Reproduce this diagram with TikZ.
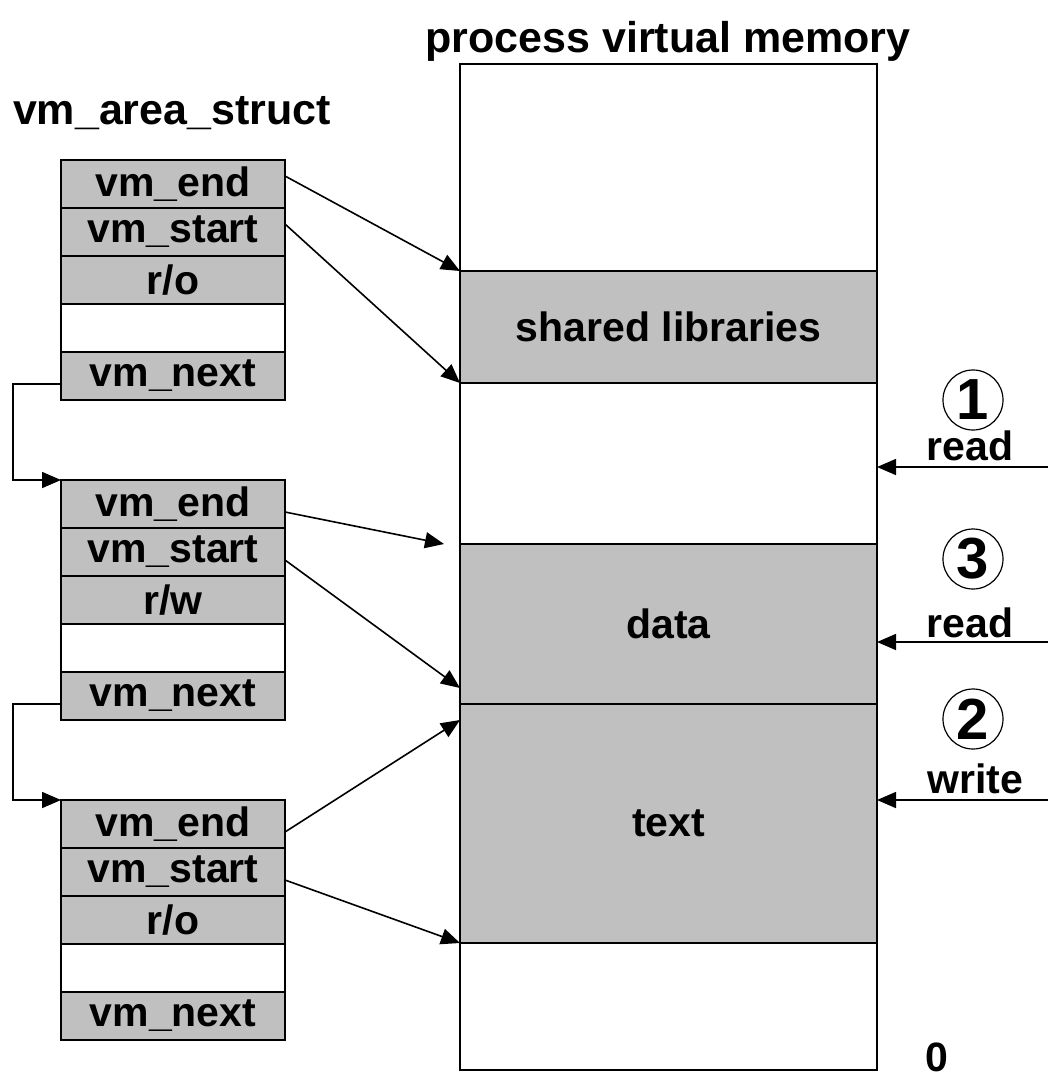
\documentclass[tikz,border=0pt]{standalone}
\usepackage{fontspec}
\setmainfont{Liberation Sans}
\usepackage{tikz}
\usetikzlibrary{arrows.meta,positioning}
\usepackage{color}
\definecolor{areagray}{RGB}{192,192,192}

\begin{document}
\begin{tikzpicture}[->,>={Triangle[length=9.5pt,width=8pt]},x=0.5pt,y=-0.5pt,
		line width=0.8pt,node distance=24pt,font=\fontsize{20.5}{24}\bfseries]
		\tikzstyle{field}=[draw,fill=areagray,minimum width=112pt,minimum height=24pt,inner sep=0pt,outer sep=0pt]
		\tikzstyle{blank}=[field,fill=white]
		\tikzstyle{region}=[draw,minimum width=208.5pt,inner sep=0pt,outer sep=0pt]
		\tikzstyle{num}=[circle,draw,line width=0.6pt,minimum size=30pt,inner sep=0pt,font=\fontsize{29}{31}\bfseries]
		\tikzstyle{title}=[anchor=base,font=\fontsize{21.5}{25}\bfseries]
		
		\useasboundingbox (0,0) rectangle (1048,1078);
		
		\node[title] (vmtitle)   at (668,52)  {process virtual memory};
		\node[title] (areatitle) at (172,124) {vm\_area\_struct};
		
		% the three vm_area_struct
		\node[field] (a1end)   at (173,184)       {vm\_end};
		\node[field] (a1start) [below of=a1end]   {vm\_start};
		\node[field] (a1perm)  [below of=a1start] {r/o};
		\node[blank] (a1free)  [below of=a1perm]  {};
		\node[field] (a1next)  [below of=a1free]  {vm\_next};
		
		\node[field] (a2end)   at (173,504)       {vm\_end};
		\node[field] (a2start) [below of=a2end]   {vm\_start};
		\node[field] (a2perm)  [below of=a2start] {r/w};
		\node[blank] (a2free)  [below of=a2perm]  {};
		\node[field] (a2next)  [below of=a2free]  {vm\_next};
		
		\node[field] (a3end)   at (173,824)       {vm\_end};
		\node[field] (a3start) [below of=a3end]   {vm\_start};
		\node[field] (a3perm)  [below of=a3start] {r/o};
		\node[blank] (a3free)  [below of=a3perm]  {};
		\node[field] (a3next)  [below of=a3free]  {vm\_next};
		
		% process virtual memory
		\node[region,minimum height=103.5pt,anchor=north] (mtop) at (668.5,64) {};
		\node[region,fill=areagray,minimum height=56pt] (shlib) [below=0pt of mtop] {shared libraries};
		\node[region,minimum height=80.5pt]             (gap)   [below=0pt of shlib] {};
		\node[region,fill=areagray,minimum height=80pt] (data)  [below=0pt of gap] {data};
		\node[region,fill=areagray,minimum height=119.5pt] (text) [below=0pt of data] {text};
		\node[region,minimum height=63.5pt]             (mbot)  [below=0pt of text] {};
		\node[anchor=base] (zero) at (937,1071) {0};
		
		\coordinate (gaptip) at ([xshift=-8pt]data.north west);
		
		\path ([yshift=4pt]a1end.east)    edge (shlib.north west)
		([yshift=4pt]a1start.east)        edge (shlib.south west)
		([yshift=-4pt]a2end.east)         edge (gaptip)
		([yshift=-4pt]a2start.east)       edge ([yshift=8pt]data.south west)
		([yshift=-4pt]a3end.east)         edge ([yshift=-8pt]text.north west)
		([yshift=-4pt]a3start.east)       edge (text.south west);
		
		\draw ([yshift=-4pt]a1next.west) -- ++(-48,0) |- (a2end.north west);
		\draw ([yshift=-4pt]a2next.west) -- ++(-48,0) |- (a3end.north west);
		
		% accesses
		\node[num] (n1) at (973,400) {1};
		\node[num] (n3) at (973,559) {3};
		\node[num] (n2) at (973,719) {2};
		\node[anchor=base] (acc1) at (970,460) {read};
		\node[anchor=base] (acc3) at (970,637) {read};
		\node[anchor=base] (acc2) at (975,793) {write};
		
		\coordinate (in1) at (1048,467);
		\coordinate (in3) at (1048,642);
		\coordinate (in2) at (1048,800);
		\path (in1) edge (in1 -| gap.east)
		(in3) edge (in3 -| data.east)
		(in2) edge (in2 -| text.east);
\end{tikzpicture}
\end{document}
